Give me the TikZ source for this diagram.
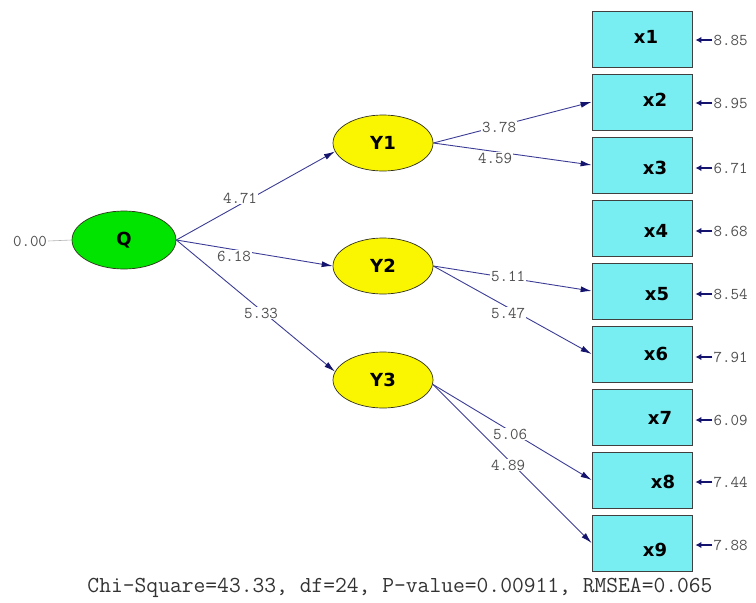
\documentclass[tikz,border=0pt]{standalone}
\usepackage{fontspec}
\setmainfont{DejaVu Sans}
\usetikzlibrary{shapes.geometric,arrows.meta}
\definecolor{qgreen}{RGB}{0,228,0}
\definecolor{yyellow}{RGB}{250,245,0}
\definecolor{xcyan}{RGB}{120,238,242}
\definecolor{edgeblue}{RGB}{60,60,150}
\definecolor{headblue}{RGB}{20,20,110}
\definecolor{numgray}{RGB}{80,80,80}
\definecolor{outl}{RGB}{50,50,30}
\tikzset{
  latent/.style={ellipse, draw=outl, line width=0.7pt, minimum width=100pt, minimum height=56pt, inner sep=0pt,
    font=\fontsize{18}{20}\selectfont\bfseries},
  qnode/.style={latent, fill=qgreen, minimum width=104pt, minimum height=58pt},
  ynode/.style={latent, fill=yyellow},
  obs/.style={rectangle, draw=black!75, line width=0.8pt, fill=xcyan, minimum width=100pt, minimum height=56pt, inner sep=0pt},
  obslbl/.style={font=\fontsize{18}{20}\selectfont\bfseries, text=black},
  path/.style={draw=edgeblue, line width=0.9pt, -{Latex[length=11pt,width=6pt,color=headblue]}},
  err/.style={draw=headblue, line width=2.2pt, -{Latex[length=6pt,width=6.5pt]}},
  coef/.style={fill=white, inner sep=1pt, text=numgray, font=\ttfamily\fontsize{16.5}{18}\selectfont},
  errv/.style={anchor=west, inner sep=1pt, text=numgray, font=\ttfamily\fontsize{16.5}{18}\selectfont},
}
\begin{document}
\begin{tikzpicture}[x=1pt,y=-1pt]
\useasboundingbox (0,0) rectangle (756,603);
% latent nodes
\node[qnode] (Q) at (124,240) {Q};
\node[ynode] (Y1) at (383,143) {Y1};
\node[ynode] (Y2) at (383,266) {Y2};
\node[ynode] (Y3) at (383,380) {Y3};
% observed
\node[obs, label={[obslbl,xshift=4pt,yshift=2pt]center:x1}] (x1) at (642,39) {};
\node[obs, label={[obslbl,xshift=13pt,yshift=2pt]center:x2}] (x2) at (642,102) {};
\node[obs, label={[obslbl,xshift=13pt,yshift=-3pt]center:x3}] (x3) at (642,165) {};
\node[obs, label={[obslbl,xshift=14pt,yshift=-3pt]center:x4}] (x4) at (642,228) {};
\node[obs, label={[obslbl,xshift=15pt,yshift=-3pt]center:x5}] (x5) at (642,291) {};
\node[obs, label={[obslbl,xshift=14pt,yshift=0pt]center:x6}] (x6) at (642,354) {};
\node[obs, label={[obslbl,xshift=18pt,yshift=-1pt]center:x7}] (x7) at (642,417) {};
\node[obs, label={[obslbl,xshift=21pt,yshift=-2pt]center:x8}] (x8) at (642,480) {};
\node[obs, label={[obslbl,xshift=13pt,yshift=-7pt]center:x9}] (x9) at (642,543) {};
% structural paths
\draw[path] (Q.east) -- (Y1.190);
\draw[path] (Q.east) -- (Y2.west);
\draw[path] (Q.east) -- (Y3.170);
% measurement paths
\draw[path] (Y1.east) -- (x2.west);
\draw[path] (Y1.east) -- (x3.west);
\draw[path] (Y2.east) -- (x5.west);
\draw[path] (Y2.east) -- (x6.west);
\draw[path] (Y3.355) -- (x8.west);
\draw[path] (Y3.355) -- (x9.west);
% coefficients
\node[coef] (c1) at (240,198) {4.71};
\node[coef] (c2) at (234,256) {6.18};
\node[coef] (c3) at (261,313) {5.33};
\node[coef] (c4) at (499,127) {3.78};
\node[coef] (c5) at (495,158) {4.59};
\node[coef] (c6) at (508,276) {5.11};
\node[coef] (c7) at (508,313) {5.47};
\node[coef] (c8) at (510,434) {5.06};
\node[coef] (c9) at (508,465) {4.89};
% error variances
\foreach \i/\v/\dy in {1/8.85/1,2/8.95/1,3/6.71/3,4/8.68/3,5/8.54/3,6/7.91/3,7/6.09/3,8/7.44/2,9/7.88/2}{
  \node[errv] (e\i) at ([xshift=20pt,yshift=-\dy pt]x\i.east) {\v};
  \draw[err] (e\i.west) -- ([xshift=3pt]e\i.west -| x\i.east);
}
% Q variance
\node[inner sep=1pt, text=numgray, font=\ttfamily\fontsize{16.5}{18}\selectfont] (q0) at (30,241) {0.00};
\draw[draw=black!30, line width=0.6pt] (q0.east) -- (Q.west);
% fit statistics
\node[text=black!80, font=\ttfamily\fontsize{22.9}{24}\selectfont] (fit) at (400,588) {Chi-Square=43.33, df=24, P-value=0.00911, RMSEA=0.065};
\end{tikzpicture}
\end{document}
